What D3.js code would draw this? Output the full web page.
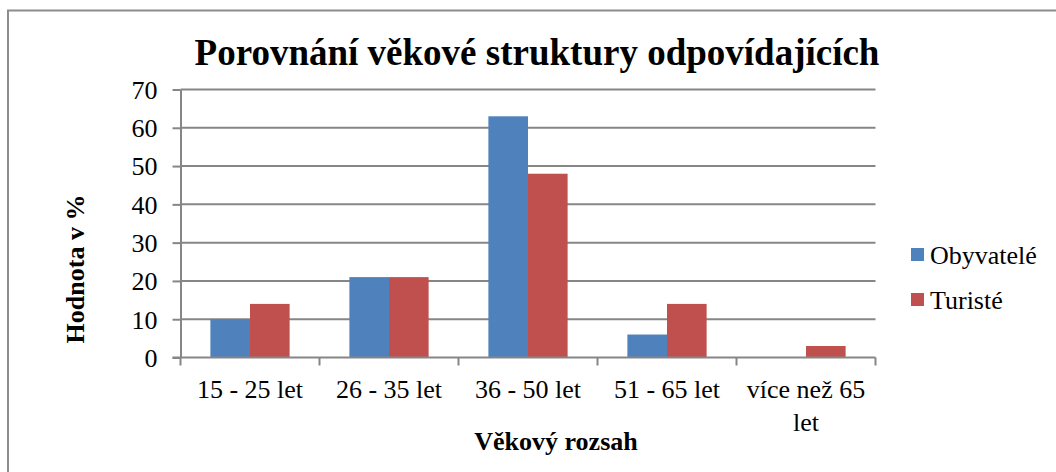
<!DOCTYPE html>
<html><head><meta charset="utf-8">
<script src="https://cdn.jsdelivr.net/npm/d3@7"></script>
<style>body{margin:0;background:#fff}svg{display:block}text{font-family:"Liberation Serif","Times New Roman",serif;fill:#000}</style>
</head><body>
<script>
const categories = ["15 - 25 let","26 - 35 let","36 - 50 let","51 - 65 let","více než 65 let"];
const seriesNames = ["Obyvatelé","Turisté"];
const obyvatele = [10,21,63,6,0];
const turiste = [14,21,48,14,3];
const yTicks = [0,10,20,30,40,50,60,70];
const colors = ["#4F81BD","#C0504D"];
const title = "Porovnání věkové struktury odpovídajících";
const yTitle = "Hodnota v %";
const xTitle = "Věkový rozsah";

const W=1056,H=472;
const svg=d3.select("body").append("svg").attr("width",W).attr("height",H);
svg.append("rect").attr("x",8).attr("y",10.5).attr("width",W+10).attr("height",H+10)
  .attr("fill","#fff").attr("stroke","#8c8c8c").attr("stroke-width",2);

const L=180.5,R=875.5,T=89.5,B=357.5;
const x=d3.scaleBand().domain(categories).range([L,R]).paddingInner(0).paddingOuter(0);
const y=d3.scaleLinear().domain([0,70]).range([B,T]);
const data=categories.map((c,i)=>({c,vals:[obyvatele[i],turiste[i]]}));
const bw=x.bandwidth();
const x1=d3.scaleBand().domain([0,1]).range([bw*0.215,bw*0.785]).padding(0);

// gridlines
svg.append("g").selectAll("line").data(yTicks.filter(d=>d>0)).join("line")
  .attr("x1",L).attr("x2",R).attr("y1",d=>y(d)).attr("y2",d=>y(d))
  .attr("stroke","#868686").attr("stroke-width",2);

// bars
const g=svg.append("g");
data.forEach(d=>{
  d.vals.forEach((v,k)=>{
    if(v<=0) return;
    g.append("rect").attr("x",x(d.c)+x1(k)).attr("width",x1.bandwidth())
     .attr("y",y(v)).attr("height",y(0)-y(v)).attr("fill",colors[k]);
  });
});

// y axis
const ya=svg.append("g").attr("transform",`translate(${L},0)`)
  .call(d3.axisLeft(y).tickValues(yTicks).tickSize(8).tickPadding(15).tickSizeOuter(0));
ya.select(".domain").attr("stroke","#868686").attr("stroke-width",2);
ya.selectAll(".tick line").attr("stroke","#868686").attr("stroke-width",2);
ya.selectAll(".tick text").attr("font-size",26).attr("font-family","Liberation Serif").attr("dy","0.34em");

// x axis
const xa=svg.append("g").attr("transform",`translate(0,${B})`)
  .call(d3.axisBottom(x).tickSize(0).tickFormat(""));
xa.select(".domain").remove();
svg.append("line").attr("x1",L-8).attr("x2",R).attr("y1",B).attr("y2",B).attr("stroke","#868686").attr("stroke-width",2);
const edges=categories.map(c=>x(c)).concat([R]);
svg.append("g").selectAll("line").data(edges).join("line")
  .attr("x1",d=>d).attr("x2",d=>d).attr("y1",B).attr("y2",B+8)
  .attr("stroke","#868686").attr("stroke-width",2);

// category labels with wrap
const lbl=svg.append("g");
categories.forEach(c=>{
  const cx=x(c)+bw/2;
  let lines=[c];
  if(c==="více než 65 let") lines=["více než 65","let"];
  lines.forEach((t,i)=>{
    lbl.append("text").attr("x",cx).attr("y",398+i*33).attr("text-anchor","middle")
      .attr("font-size",26).text(t);
  });
});

// titles
svg.append("text").attr("x",537).attr("y",65).attr("text-anchor","middle")
  .attr("font-size",37).attr("font-weight","bold").text(title);
svg.append("text").attr("transform","translate(84,269) rotate(-90)").attr("text-anchor","middle")
  .attr("font-size",26).attr("font-weight","bold").text(yTitle);
svg.append("text").attr("x",556).attr("y",450).attr("text-anchor","middle")
  .attr("font-size",26).attr("font-weight","bold").text(xTitle);

// legend
const lg=svg.append("g");
seriesNames.forEach((s,i)=>{
  const yy=255+i*45;
  lg.append("rect").attr("x",911).attr("y",yy-7).attr("width",13).attr("height",13).attr("fill",colors[i]);
  lg.append("text").attr("x",930).attr("y",yy+9).attr("font-size",26).text(s);
});
</script>
</body></html>
